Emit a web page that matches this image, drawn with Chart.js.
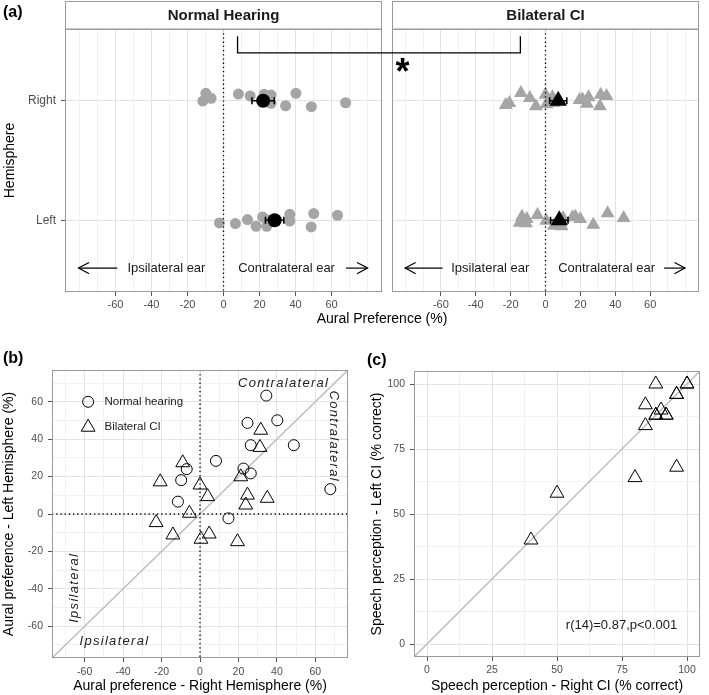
<!DOCTYPE html>
<html><head><meta charset="utf-8">
<script src="https://cdn.jsdelivr.net/npm/chart.js@4.4.1/dist/chart.umd.min.js"></script>
<style>
html,body{margin:0;padding:0;background:#fff;}
#wrap{position:relative;width:709px;height:695px;overflow:hidden;background:#fff;}
canvas{position:absolute;left:0;top:0;}
</style></head><body>
<div id="wrap">
<canvas id="cA1" width="709" height="695"></canvas>
<canvas id="cA2" width="709" height="695"></canvas>
<canvas id="cB" width="709" height="695"></canvas>
<canvas id="cC" width="709" height="695"></canvas>
</div>
<script>
// ================= DATA =================
const hemispheres = ['Left', 'Right'];               // y positions 1, 2
const facetTicks = [-60, -40, -20, 0, 20, 40, 60];
const facetGrid  = [-80, -70, -60, -50, -40, -30, -20, -10, 0, 10, 20, 30, 40, 50, 60, 70, 80];
const scatterTicks = [-60, -40, -20, 0, 20, 40, 60];
const scatterGrid  = [-70, -60, -50, -40, -30, -20, -10, 0, 10, 20, 30, 40, 50, 60, 70];
const speechTicks = [0, 25, 50, 75, 100];
const speechGrid  = [0, 12.5, 25, 37.5, 50, 62.5, 75, 87.5, 100];

// Normal hearing subjects: aural preference (%) per hemisphere
const nhRight = [34.5, 40.2, 24.7, 26.4, 48.8, 8.3, -6.9, 22.6, 26.4, -9.8, -11.5, 67.8, 14.8];
const nhLeft  = [63.3, 50.1, 48.7, 36.8, 36.8, 28.4, 24.0, 24.3, 21.7, 18.1, 6.6, 13.3, -2.3];
// vertical jitter, in category units
const nhRightJitter = [-0.042, 0.062, -0.01, 0.048, -0.05, 0.056, 0.02, 0.054, -0.022, 0.062, -0.003, -0.017, 0.04];
const nhLeftJitter  = [0.042, 0.056, -0.056, 0.05, -0.006, 0.01, -0.05, 0.0, 0.028, -0.05, -0.028, 0.006, -0.022];
const nhMean = [28.4, 22.0];   // Left, Right
const nhErr  = [5.1, 6.2];

// Bilateral CI subjects
const ciRight = [31.6, 31.2, -9.0, 21.2, -20.7, 0.0, 4.0, 24.7, 35.0, 23.8, -5.5, -22.8, -14.1, 4.8, 0.5, 19.5];
const ciLeft  = [44.8, 35.6, 27.4, 19.9, 17.2, 15.5, 9.3, 10.1, 8.4, 4.8, 0.4, -4.6, -11.2, -10.7, -13.5, -14.8];
const ciRightJitter = [0.05, -0.047, 0.023, 0.01, -0.02, 0.051, 0.03, 0.03, 0.04, -0.025, -0.047, -0.035, 0.064, -0.02, -0.03, 0.006];
const ciLeftJitter  = [0.02, 0.058, -0.038, 0.01, 0.03, 0.025, -0.05, 0.02, -0.03, -0.045, -0.005, 0.045, -0.025, 0.01, 0.03, -0.02];
const ciMean = [7.9, 7.3];     // Left, Right
const ciErr  = [5.0, 4.9];

// Speech perception (% correct), bilateral CI
const speechRightCI = [88, 100, 96, 84, 90, 88, 92, 84, 96, 80, 50, 40, 100, 88, 92, 96];
const speechLeftCI  = [100, 100, 96, 92, 90, 88, 88, 84, 68, 64, 58, 40, 100, 88, 88, 96];

// ================= STYLE =================
const FONT = "'Liberation Sans', Arial, Helvetica, sans-serif";
Chart.defaults.font.family = FONT;
Chart.defaults.color = '#4d4d4d';
const GRID_MAJOR = '#e3e3e3', GRID_MINOR = '#f1f1f1', BORDER = '#9a9a9a', TICKC = '#4d4d4d';
const POINT_GREY = '#a5a5a5';

function gridOpts(majors, drawTicks) {
  return {
    color: c => (c.tick && majors.includes(c.tick.value)) ? GRID_MAJOR : GRID_MINOR,
    lineWidth: 1,
    drawTicks: drawTicks !== false,
    tickLength: 4,
    tickWidth: 1,
    tickColor: c => (c.tick && majors.includes(c.tick.value)) ? '#555555' : 'rgba(0,0,0,0)'
  };
}
function linAxis(o) {
  return {
    type: 'linear', min: o.min, max: o.max,
    afterBuildTicks: s => { s.ticks = o.grid.map(v => ({value: v})); },
    ticks: {
      display: o.showLabels !== false,
      autoSkip: false, maxRotation: 0, minRotation: 0,
      font: {size: o.size}, color: TICKC, padding: o.pad,
      callback: o.label || (v => o.majors.includes(v) ? String(v) : '')
    },
    grid: gridOpts(o.majors, o.drawTicks),
    border: {display: false},
    title: o.title ? {display: true, text: o.title, color: '#000', font: {size: 14}, padding: o.titlePad || {top: 1, bottom: 0}} : {display: false},
    afterFit: s => { if (o.w !== undefined) s.width = o.w; if (o.h !== undefined) s.height = o.h; }
  };
}
function strokeArea(ctx, a) {
  ctx.save(); ctx.strokeStyle = BORDER; ctx.lineWidth = 1;
  ctx.strokeRect(Math.round(a.left) + 0.5, Math.round(a.top) + 0.5, Math.round(a.right - a.left) - 1, Math.round(a.bottom - a.top) - 1);
  ctx.restore();
}
function dotted(ctx, x1, y1, x2, y2) {
  ctx.save(); ctx.strokeStyle = '#000'; ctx.lineWidth = 1.3; ctx.setLineDash([1.3, 2.9]);
  ctx.beginPath(); ctx.moveTo(x1, y1); ctx.lineTo(x2, y2); ctx.stroke(); ctx.restore();
}
function arrow(ctx, x1, y, x2) {
  const len = 12, ang = 28 * Math.PI / 180, dir = Math.sign(x2 - x1);
  ctx.beginPath(); ctx.moveTo(x1, y); ctx.lineTo(x2, y); ctx.stroke();
  ctx.beginPath();
  ctx.moveTo(x2 - dir * len * Math.cos(ang), y - len * Math.sin(ang));
  ctx.lineTo(x2, y);
  ctx.lineTo(x2 - dir * len * Math.cos(ang), y + len * Math.sin(ang));
  ctx.stroke();
}
function tri(ctx, x, y, r) {
  let rad = 0;
  ctx.beginPath();
  for (let k = 0; k < 3; k++) {
    const px = x + Math.sin(rad) * r, py = y - Math.cos(rad) * r;
    if (k === 0) ctx.moveTo(px, py); else ctx.lineTo(px, py);
    rad += 2 * Math.PI / 3;
  }
  ctx.closePath();
}

// annotation layout (positions in data units)
const facetNotes = {y: 0.6, ipsiText: -31.7, contraText: 35, ipsiArrow: [-59, -80.5], contraArrow: [68, 80]};

// ================= PANEL (a) facets =================
function makeFacet(id, cfg) {
  const subjects = cfg.left.map((v, i) => ({x: v, y: 1 + cfg.leftJ[i]}))
    .concat(cfg.right.map((v, i) => ({x: v, y: 2 + cfg.rightJ[i]})));
  const plugin = {
    id: 'facetDecor',
    afterDatasetDraw(chart, args) {
      if (args.index !== 1) return;
      const {ctx, scales: {x, y}} = chart;
      ctx.save(); ctx.strokeStyle = '#000'; ctx.lineWidth = 1.6;
      cfg.means.forEach((m, i) => {
        const py = y.getPixelForValue(i + 1);
        const x1 = x.getPixelForValue(m - cfg.err[i]), x2 = x.getPixelForValue(m + cfg.err[i]);
        ctx.beginPath(); ctx.moveTo(x1, py); ctx.lineTo(x2, py);
        ctx.moveTo(x1, py - 3.5); ctx.lineTo(x1, py + 3.5);
        ctx.moveTo(x2, py - 3.5); ctx.lineTo(x2, py + 3.5); ctx.stroke();
      });
      ctx.restore();
    },
    afterDatasetsDraw(chart) {
      const {ctx, chartArea: a, scales: {x, y}} = chart;
      const x0 = x.getPixelForValue(0);
      dotted(ctx, x0, a.top, x0, a.bottom);
      const ay = y.getPixelForValue(facetNotes.y);
      ctx.save();
      ctx.strokeStyle = '#000'; ctx.lineWidth = 1.2; ctx.lineJoin = 'miter';
      arrow(ctx, x.getPixelForValue(facetNotes.ipsiArrow[0]), ay, x.getPixelForValue(facetNotes.ipsiArrow[1]));
      arrow(ctx, x.getPixelForValue(facetNotes.contraArrow[0]), ay, x.getPixelForValue(facetNotes.contraArrow[1]));
      ctx.fillStyle = '#1a1a1a'; ctx.font = '13px ' + FONT; ctx.textAlign = 'center'; ctx.textBaseline = 'middle';
      ctx.fillText('Ipsilateral ear', x.getPixelForValue(facetNotes.ipsiText), ay);
      ctx.fillText('Contralateral ear', x.getPixelForValue(facetNotes.contraText), ay);
      ctx.restore();
      strokeArea(ctx, a);
    },
    afterDraw(chart) {
      const {ctx, chartArea: a} = chart;
      ctx.save();
      ctx.fillStyle = '#fff'; ctx.fillRect(a.left, 1, a.right - a.left, a.top - 1);
      ctx.strokeStyle = BORDER; ctx.lineWidth = 1;
      ctx.strokeRect(Math.round(a.left) + 0.5, 1.5, Math.round(a.right - a.left) - 1, Math.round(a.top) - 1.5);
      ctx.fillStyle = '#1a1a1a'; ctx.font = 'bold 15px ' + FONT; ctx.textAlign = 'center'; ctx.textBaseline = 'middle';
      ctx.fillText(cfg.strip, (a.left + a.right) / 2, (1 + a.top) / 2 + 0.5);
      ctx.restore();
      if (cfg.afterDraw) cfg.afterDraw(chart);
    }
  };
  return new Chart(document.getElementById(id), {
    type: 'scatter',
    data: {datasets: [
      {label: 'mean', data: cfg.means.map((m, i) => ({x: m, y: i + 1})), pointStyle: cfg.style,
       pointRadius: cfg.meanR, backgroundColor: '#000', borderColor: '#000', borderWidth: 0},
      {label: 'subjects', data: subjects, pointStyle: cfg.style, pointRadius: cfg.r,
       backgroundColor: POINT_GREY, borderColor: POINT_GREY, borderWidth: 0}
    ]},
    options: {
      responsive: false, animation: false, devicePixelRatio: 1, events: [],
      layout: {padding: cfg.padding},
      plugins: {legend: {display: false}, tooltip: {enabled: false}},
      scales: {
        x: linAxis({min: -88, max: 88, grid: facetGrid, majors: facetTicks, size: 11, pad: 2, h: 20}),
        y: linAxis({min: 0.4, max: 2.6, grid: [1, 2], majors: [1, 2], size: 12, pad: 5,
          showLabels: cfg.yLabels, drawTicks: cfg.yLabels, w: cfg.yW,
          label: v => hemispheres[v - 1] || '', title: cfg.yTitle, titlePad: {top: 2, bottom: 0}})
      }
    },
    plugins: [plugin]
  });
}

const bracket = {nhX: 7.8, ciX: -14.4, yTop: 2.54, yBar: 2.4, starX: -82, starY: 2.3};

const chartA1 = makeFacet('cA1', {
  strip: 'Normal Hearing', style: 'circle', r: 5.5, meanR: 7,
  left: nhLeft, right: nhRight, leftJ: nhLeftJitter, rightJ: nhRightJitter, means: nhMean, err: nhErr,
  padding: {left: 0, right: 327, top: 29, bottom: 383}, yLabels: true, yW: 65, yTitle: 'Hemisphere'
});
const chartA2 = makeFacet('cA2', {
  strip: 'Bilateral CI', style: 'triangle', r: 8, meanR: 10,
  left: ciLeft, right: ciRight, leftJ: ciLeftJitter, rightJ: ciRightJitter, means: ciMean, err: ciErr,
  padding: {left: 392, right: 1, top: 29, bottom: 383}, yLabels: false, yW: 0,
  afterDraw(chart) {
    const {ctx} = chart;
    const xs1 = chartA1.scales.x, ys1 = chartA1.scales.y, xs2 = chart.scales.x, ys2 = chart.scales.y;
    const xa = xs1.getPixelForValue(bracket.nhX), xb = xs2.getPixelForValue(bracket.ciX);
    const yt = ys1.getPixelForValue(bracket.yTop), yb = ys1.getPixelForValue(bracket.yBar);
    ctx.save(); ctx.strokeStyle = '#000'; ctx.lineWidth = 1.3;
    ctx.beginPath(); ctx.moveTo(xa, yt); ctx.lineTo(xa, yb); ctx.lineTo(xb, yb); ctx.lineTo(xb, yt); ctx.stroke();
    // asterisk
    ctx.fillStyle = '#000'; ctx.font = 'bold 36px ' + FONT; ctx.textAlign = 'center'; ctx.textBaseline = 'alphabetic';
    const mt = ctx.measureText('*');
    const cy = ys2.getPixelForValue(bracket.starY);
    ctx.fillText('*', xs2.getPixelForValue(bracket.starX), cy + (mt.actualBoundingBoxAscent - mt.actualBoundingBoxDescent) / 2);
    // shared x title
    ctx.fillStyle = '#000'; ctx.font = '14px ' + FONT; ctx.textBaseline = 'middle';
    ctx.fillText('Aural Preference (%)', (chartA1.chartArea.left + chart.chartArea.right) / 2, 319);
    // panel labels
    ctx.font = 'bold 16px ' + FONT; ctx.textAlign = 'left';
    ctx.fillText('(a)', 3, 13);
    ctx.restore();
  }
});

// ================= PANEL (b) =================
const bNotes = {
  contraTop: {x: 43.5, y: 69.9}, contraSide: {x: 69.3, y: 41.6},
  ipsiSide: {x: -65.3, y: -39.5}, ipsiBottom: {x: -44.5, y: -68.1},
  legendX: -58.2, legendTextX: -49.7, legendY: [60, 46.4]
};
new Chart(document.getElementById('cB'), {
  type: 'scatter',
  data: {datasets: [
    {label: 'Normal hearing', data: nhRight.map((v, i) => ({x: v, y: nhLeft[i]})), pointStyle: 'circle',
     pointRadius: 5.5, backgroundColor: 'rgba(0,0,0,0)', borderColor: '#000', borderWidth: 1},
    {label: 'Bilateral CI', data: ciRight.map((v, i) => ({x: v, y: ciLeft[i]})), pointStyle: 'triangle',
     pointRadius: 8, backgroundColor: 'rgba(0,0,0,0)', borderColor: '#000', borderWidth: 1}
  ]},
  options: {
    responsive: false, animation: false, devicePixelRatio: 1, events: [],
    layout: {padding: {left: 0, right: 361, top: 370, bottom: 0}},
    plugins: {legend: {display: false}, tooltip: {enabled: false}},
    scales: {
      x: linAxis({min: -77, max: 77, grid: scatterGrid, majors: scatterTicks, size: 10.5, pad: 3.4, h: 37,
        title: 'Aural preference - Right Hemisphere (%)', titlePad: {top: 0, bottom: 0}}),
      y: linAxis({min: -77, max: 77, grid: scatterGrid, majors: scatterTicks, size: 10.5, pad: 5, w: 52,
        title: 'Aural preference - Left Hemisphere (%)', titlePad: {top: 1, bottom: 0}})
    }
  },
  plugins: [{
    id: 'bDecor',
    beforeDatasetsDraw(chart) {
      const {ctx, chartArea: a, scales: {x, y}} = chart;
      ctx.save(); ctx.beginPath(); ctx.rect(a.left, a.top, a.right - a.left, a.bottom - a.top); ctx.clip();
      ctx.strokeStyle = '#bdbdbd'; ctx.lineWidth = 1.5;
      ctx.beginPath(); ctx.moveTo(x.getPixelForValue(x.min), y.getPixelForValue(x.min));
      ctx.lineTo(x.getPixelForValue(x.max), y.getPixelForValue(x.max)); ctx.stroke();
      ctx.restore();
      const x0 = x.getPixelForValue(0), y0 = y.getPixelForValue(0);
      dotted(ctx, x0, a.top, x0, a.bottom);
      dotted(ctx, a.left, y0, a.right, y0);
    },
    afterDatasetsDraw(chart) {
      const {ctx, chartArea: a, scales: {x, y}} = chart;
      ctx.save();
      ctx.fillStyle = '#222'; ctx.font = 'italic 13px ' + FONT; ctx.textAlign = 'center'; ctx.textBaseline = 'middle';
      try { ctx.letterSpacing = '1.3px'; } catch (e) {}
      const P = p => [x.getPixelForValue(p.x), y.getPixelForValue(p.y)];
      let [px, py] = P(bNotes.contraTop); ctx.fillText('Contralateral', px, py);
      [px, py] = P(bNotes.ipsiBottom); ctx.fillText('Ipsilateral', px, py);
      [px, py] = P(bNotes.contraSide);
      ctx.save(); ctx.translate(px, py); ctx.rotate(Math.PI / 2); ctx.fillText('Contralateral', 0, 0); ctx.restore();
      [px, py] = P(bNotes.ipsiSide);
      ctx.save(); ctx.translate(px, py); ctx.rotate(-Math.PI / 2); ctx.fillText('Ipsilateral', 0, 0); ctx.restore();
      try { ctx.letterSpacing = '0px'; } catch (e) {}
      // legend
      const lx = x.getPixelForValue(bNotes.legendX), tx = x.getPixelForValue(bNotes.legendTextX);
      const ly1 = y.getPixelForValue(bNotes.legendY[0]), ly2 = y.getPixelForValue(bNotes.legendY[1]);
      ctx.strokeStyle = '#000'; ctx.lineWidth = 1;
      ctx.beginPath(); ctx.arc(lx, ly1, 5.5, 0, 2 * Math.PI); ctx.stroke();
      tri(ctx, lx, ly2, 8); ctx.stroke();
      ctx.fillStyle = '#1a1a1a'; ctx.font = '11.5px ' + FONT; ctx.textAlign = 'left';
      ctx.fillText('Normal hearing', tx, ly1);
      ctx.fillText('Bilateral CI', tx, ly2);
      ctx.font = 'bold 16px ' + FONT; ctx.fillStyle = '#000';
      ctx.fillText('(b)', 3, 359);
      ctx.restore();
      strokeArea(ctx, a);
    }
  }]
});

// ================= PANEL (c) =================
const cNote = {x: 74.8, y: 7.3};
new Chart(document.getElementById('cC'), {
  type: 'scatter',
  data: {datasets: [
    {label: 'Bilateral CI', data: speechRightCI.map((v, i) => ({x: v, y: speechLeftCI[i]})), pointStyle: 'triangle',
     pointRadius: 8, backgroundColor: 'rgba(0,0,0,0)', borderColor: '#000', borderWidth: 1}
  ]},
  options: {
    responsive: false, animation: false, devicePixelRatio: 1, events: [],
    layout: {padding: {left: 367, right: 1, top: 371, bottom: 0}},
    plugins: {legend: {display: false}, tooltip: {enabled: false}},
    scales: {
      x: linAxis({min: -5, max: 105, grid: speechGrid, majors: speechTicks, size: 10.5, pad: 3, h: 38,
        title: 'Speech perception - Right CI (% correct)', titlePad: {top: 0, bottom: 0}}),
      y: linAxis({min: -5, max: 105, grid: speechGrid, majors: speechTicks, size: 10.5, pad: 5, w: 47,
        title: 'Speech perception - Left CI (% correct)', titlePad: {top: 1.6, bottom: 0}})
    }
  },
  plugins: [{
    id: 'cDecor',
    beforeDatasetsDraw(chart) {
      const {ctx, chartArea: a, scales: {x, y}} = chart;
      ctx.save(); ctx.beginPath(); ctx.rect(a.left, a.top, a.right - a.left, a.bottom - a.top); ctx.clip();
      ctx.strokeStyle = '#bdbdbd'; ctx.lineWidth = 1.5;
      ctx.beginPath(); ctx.moveTo(x.getPixelForValue(x.min), y.getPixelForValue(x.min));
      ctx.lineTo(x.getPixelForValue(x.max), y.getPixelForValue(x.max)); ctx.stroke();
      ctx.restore();
    },
    afterDatasetsDraw(chart) {
      const {ctx, chartArea: a, scales: {x, y}} = chart;
      ctx.save();
      ctx.fillStyle = '#1a1a1a'; ctx.font = '13px ' + FONT; ctx.textAlign = 'center'; ctx.textBaseline = 'middle';
      ctx.fillText('r(14)=0.87,p<0.001', x.getPixelForValue(cNote.x), y.getPixelForValue(cNote.y));
      ctx.font = 'bold 16px ' + FONT; ctx.fillStyle = '#000'; ctx.textAlign = 'left';
      ctx.fillText('(c)', 367, 361);
      ctx.restore();
      strokeArea(ctx, a);
    }
  }]
});
</script>
</body></html>
